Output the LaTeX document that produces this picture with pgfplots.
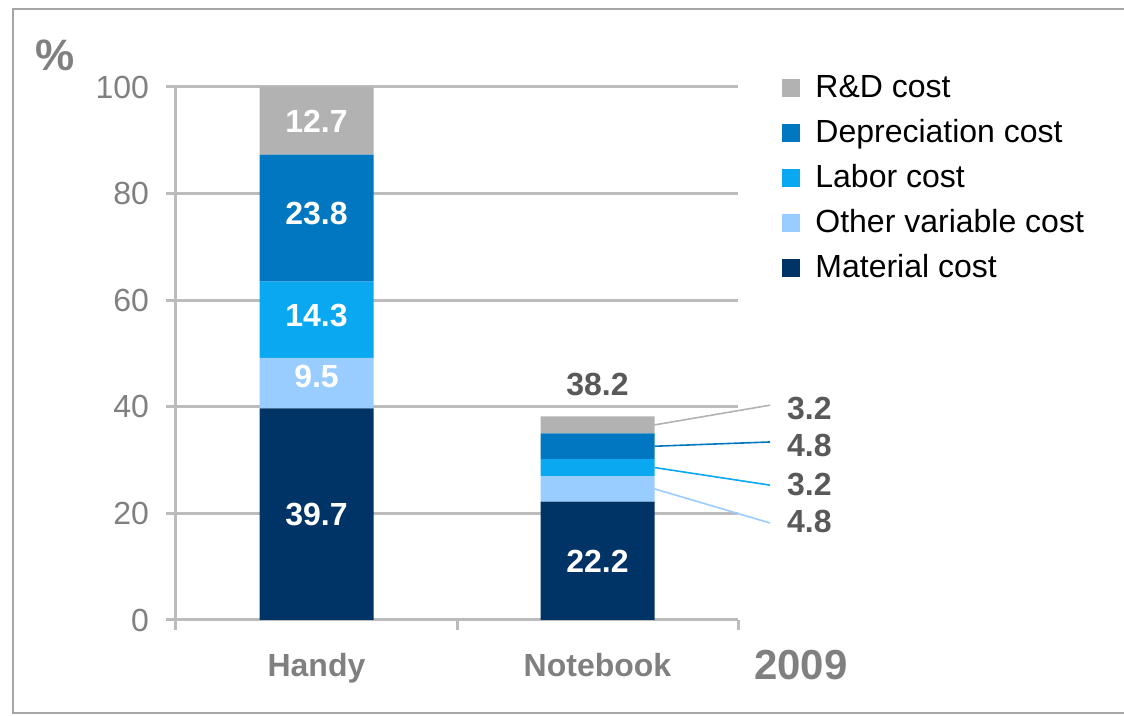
\documentclass[border=0pt]{standalone}
\usepackage{pgfplots}
\pgfplotsset{compat=1.18}
\usepackage{fontspec}
\setmainfont{Liberation Sans}
\definecolor{cRD}{HTML}{B2B2B2}
\definecolor{cDep}{HTML}{0077C0}
\definecolor{cLab}{HTML}{0AA8F0}
\definecolor{cOth}{HTML}{99CCFF}
\definecolor{cMat}{HTML}{003366}
\definecolor{cGrid}{HTML}{BCBCBC}
\definecolor{cTick}{HTML}{808080}
\definecolor{cDark}{HTML}{595959}
\definecolor{cFrame}{HTML}{A6A6A6}
\tikzset{
  lab/.style={text=white, font=\fontsize{16}{19}\selectfont\bfseries},
  rlab/.style={text=cDark, font=\fontsize{16}{19}\selectfont\bfseries},
}
\begin{document}
\begin{tikzpicture}
\path[use as bounding box] (0,0) rectangle (562pt,358pt);
\draw[cFrame, line width=0.6pt] (562pt,353.5pt) -- (6.5pt,353.5pt) -- (6.5pt,1.5pt) -- (562pt,1.5pt);
\node[text=cTick, font=\fontsize{22}{26}\selectfont\bfseries] at (27.5pt,330.5pt) {\%};
\node[text=cTick, font=\fontsize{21}{25}\selectfont\bfseries] at (400.5pt,25.5pt) {2009};
\begin{axis}[
  at={(88pt,48pt)}, anchor=south west,
  scale only axis, width=281pt, height=266.5pt,
  xmin=-0.5, xmax=1.5, ymin=0, ymax=100,
  ybar stacked, bar width=57pt,
  axis lines*=left,
  axis line style={draw=cGrid, line width=1.5pt},
  ytick={0,20,...,100}, ymajorgrids,
  grid style={draw=cGrid, line width=1.5pt},
  tick align=outside, major tick length=5pt,
  y tick style={draw=cGrid, line width=1.5pt},
  xtick={0,1}, xticklabels={Handy,Notebook},
  x tick style={draw=none},
  extra x ticks={-0.5,0.5,1.5}, extra x tick labels={},
  extra x tick style={x tick style={draw=cGrid, line width=1.5pt}, grid=none},
  /pgf/number format/assume math mode=true,
  yticklabel style={font=\fontsize{16}{19}\selectfont, text=cTick, xshift=-5pt},
  xticklabel style={font=\fontsize{16}{19}\selectfont\bfseries, text=cTick, yshift=-8pt},
  clip=false,
  reverse legend,
  legend cell align=left,
  legend image code/.code={\fill[#1] (0pt,-3.8pt) rectangle (9pt,5.2pt);},
  legend style={at={(1.0783,1.0253)}, anchor=north west, draw=none, fill=none,
    inner sep=0pt, font=\fontsize{16}{19}\selectfont, row sep=7.5pt,
    nodes={inner sep=0pt, text height=12pt, text depth=3pt},
    /tikz/every odd column/.append style={column sep=7.5pt}},
]
\addplot[fill=cMat, draw=none] coordinates {(0,39.7) (1,22.2)};
\addlegendentry{Material cost}
\addplot[fill=cOth, draw=none] coordinates {(0,9.5) (1,4.8)};
\addlegendentry{Other variable cost}
\addplot[fill=cLab, draw=none] coordinates {(0,14.3) (1,3.2)};
\addlegendentry{Labor cost}
\addplot[fill=cDep, draw=none] coordinates {(0,23.8) (1,4.8)};
\addlegendentry{Depreciation cost}
\addplot[fill=cRD, draw=none] coordinates {(0,12.7) (1,3.2)};
\addlegendentry{R\&D cost}
\coordinate (h1) at (axis cs:0,93.65);
\coordinate (h2) at (axis cs:0,76.2);
\coordinate (h3) at (axis cs:0,57.15);
\coordinate (h4) at (axis cs:0,45.6);
\coordinate (h5) at (axis cs:0,19.85);
\coordinate (n1) at (axis cs:1,11.1);
\node[rlab] at (axis cs:1,44.1) {38.2};
\draw[cRD, line width=0.8pt] (axis cs:1.203,36.6) -- (axis cs:1.614,40.3);
\draw[cDep, line width=0.8pt] (axis cs:1.203,32.6) -- (axis cs:1.614,33.4);
\draw[cLab, line width=0.8pt] (axis cs:1.203,28.6) -- (axis cs:1.614,25.3);
\draw[cOth, line width=0.8pt] (axis cs:1.203,24.6) -- (axis cs:1.614,18.2);
\node[rlab, anchor=west] at (axis cs:1.6495,39.77) {3.2};
\node[rlab, anchor=west] at (axis cs:1.6495,32.65) {4.8};
\node[rlab, anchor=west] at (axis cs:1.6495,25.5) {3.2};
\node[rlab, anchor=west] at (axis cs:1.6495,18.39) {4.8};
\end{axis}
\node[lab] at (h1) {12.7};
\node[lab] at (h2) {23.8};
\node[lab] at (h3) {14.3};
\node[lab] at (h4) {9.5};
\node[lab] at (h5) {39.7};
\node[lab] at (n1) {22.2};
\end{tikzpicture}
\end{document}
